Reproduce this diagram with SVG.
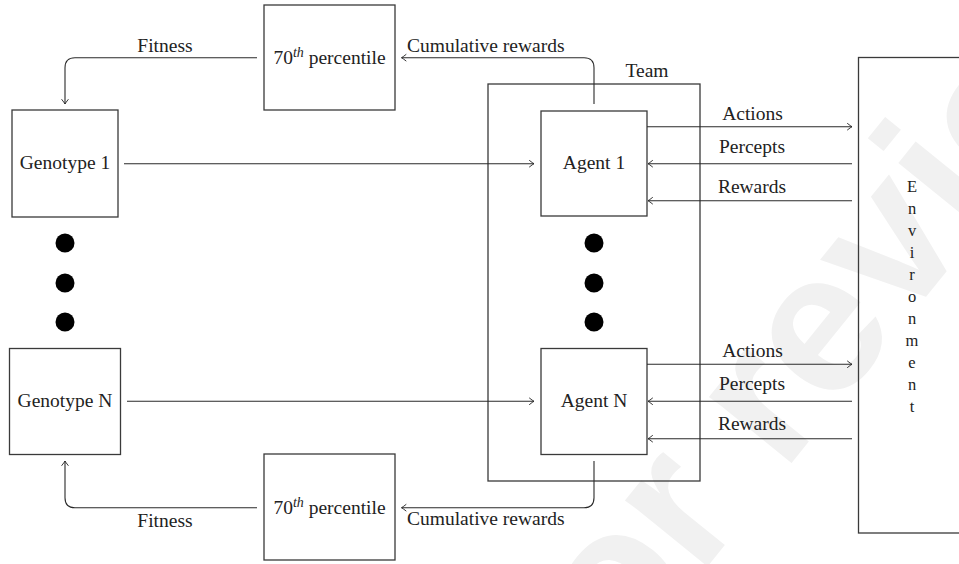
<svg xmlns="http://www.w3.org/2000/svg" width="959" height="564" viewBox="0 0 959 564">
<defs>
<marker id="arr" markerUnits="userSpaceOnUse" markerWidth="10" markerHeight="10" viewBox="-6 -5 8 10" refX="0" refY="0" orient="auto">
<path d="M-4.5,-3.2 Q-1.2,-0.6 0,0 Q-1.2,0.6 -4.5,3.2" fill="none" stroke="#222" stroke-width="0.9" stroke-linecap="round"/>
</marker>
</defs>
<style>
.box{fill:none;stroke:#3a3a3a;stroke-width:1.3}
.ln{fill:none;stroke:#2a2a2a;stroke-width:1.1}
.ar{marker-end:url(#arr)}
.t{font-family:"Liberation Serif","Times New Roman",serif;font-size:19.5px;fill:#222}
.c{text-anchor:middle}
.env{font-family:"Liberation Serif","Times New Roman",serif;font-size:16.5px;fill:#222;text-anchor:middle}
.dot{fill:#000}
.wm{font-family:"Liberation Sans",Arial,sans-serif;font-weight:bold;font-size:200px;fill:#f1f1f1}
</style>
<rect width="959" height="564" fill="#fff"/>
<text class="wm" transform="translate(580,724) rotate(-51)">for review</text>

<g id="team">
<rect class="box" x="488" y="84" width="212" height="397"/>
<text class="t c" x="647" y="77.3">Team</text>
</g>
<g id="pct-top">
<rect class="box" x="264" y="5" width="131" height="105"/>
<text class="t c" x="329.5" y="64">70<tspan font-size="14" dy="-7" font-style="italic">th</tspan><tspan dy="7"> percentile</tspan></text>
</g>
<g id="pct-bottom">
<rect class="box" x="264" y="454" width="131" height="106"/>
<text class="t c" x="329.5" y="514.3">70<tspan font-size="14" dy="-7" font-style="italic">th</tspan><tspan dy="7"> percentile</tspan></text>
</g>
<g id="genotype1">
<rect class="box" x="12" y="110" width="106" height="107"/>
<text class="t c" x="65" y="169.3">Genotype 1</text>
</g>
<g id="genotypeN">
<rect class="box" x="9.5" y="348.5" width="111" height="106"/>
<text class="t c" x="65" y="406.5">Genotype N</text>
</g>
<g id="agent1">
<rect class="box" x="541" y="111" width="106" height="105"/>
<text class="t c" x="594" y="169">Agent 1</text>
</g>
<g id="agentN">
<rect class="box" x="541" y="348.5" width="106" height="106"/>
<text class="t c" x="594" y="406.5">Agent N</text>
</g>
<g id="environment">
<rect class="box" x="858.5" y="57.5" width="130" height="475.5"/>
<text class="env" x="912" y="191.5">E</text>
<text class="env" x="912" y="213.5">n</text>
<text class="env" x="912" y="235.5">v</text>
<text class="env" x="912" y="257.5">i</text>
<text class="env" x="912" y="279.5">r</text>
<text class="env" x="912" y="301.5">o</text>
<text class="env" x="912" y="323.5">n</text>
<text class="env" x="912" y="345.5">m</text>
<text class="env" x="912" y="367.5">e</text>
<text class="env" x="912" y="389.5">n</text>
<text class="env" x="912" y="411.5">t</text>
</g>
<g id="dots">
<circle class="dot" cx="65" cy="243" r="9.5"/>
<circle class="dot" cx="65" cy="283" r="9.5"/>
<circle class="dot" cx="65" cy="322" r="9.5"/>
<circle class="dot" cx="594" cy="243" r="9.5"/>
<circle class="dot" cx="594" cy="283" r="9.5"/>
<circle class="dot" cx="594" cy="322" r="9.5"/>
</g>

<g id="connectors">
<path class="ln ar" d="M257,57.7 H75 Q65,57.7 65,67.7 V104"/>
<text class="t c" x="165" y="51.5">Fitness</text>
<path class="ln ar" d="M594,104 V67.7 Q594,57.7 584,57.7 H401.5"/>
<text class="t" x="407" y="51.5">Cumulative rewards</text>
<path class="ln ar" d="M257,507.7 H75 Q65,507.7 65,497.7 V461"/>
<text class="t c" x="165" y="526.7">Fitness</text>
<path class="ln ar" d="M594,461 V497.7 Q594,507.7 584,507.7 H401.5"/>
<text class="t" x="407" y="525">Cumulative rewards</text>

<path class="ln ar" d="M124,163.7 H534"/>
<path class="ln ar" d="M127,401.3 H534"/>

<path class="ln ar" d="M647,126.7 H852"/>
<text class="t c" x="752.5" y="120">Actions</text>
<path class="ln ar" d="M852,163.7 H648"/>
<text class="t c" x="752" y="153.3">Percepts</text>
<path class="ln ar" d="M852,200.7 H648"/>
<text class="t c" x="752" y="193.3">Rewards</text>

<path class="ln ar" d="M647,364.3 H852"/>
<text class="t c" x="752.5" y="356.7">Actions</text>
<path class="ln ar" d="M852,401.3 H648"/>
<text class="t c" x="752" y="390">Percepts</text>
<path class="ln ar" d="M852,438.7 H648"/>
<text class="t c" x="752" y="430">Rewards</text>
</g>
</svg>
